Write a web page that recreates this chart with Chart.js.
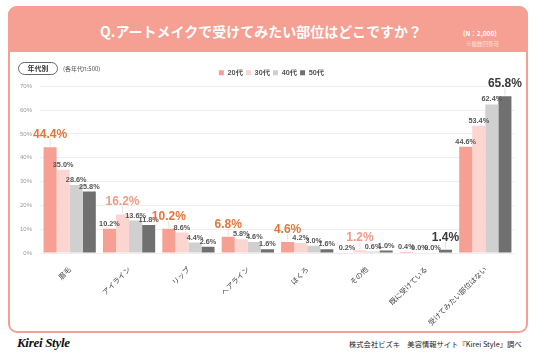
<!DOCTYPE html>
<html><head><meta charset="utf-8">
<script src="https://cdn.jsdelivr.net/npm/chart.js@4"></script>
<style>
html,body{margin:0;padding:0;width:536px;height:357px;background:#fff;overflow:hidden;font-family:"Liberation Sans","Noto Sans CJK JP",sans-serif;}
#panel{position:absolute;left:8px;top:6px;width:516px;height:323px;border:2px solid #F5A092;border-radius:9px;box-sizing:content-box;}
#header{position:absolute;left:8px;top:6px;width:520px;height:46px;background:#F5A092;border-radius:9px 9px 0 0;}
#title{position:absolute;left:0;top:21px;width:522px;text-align:center;color:#fff;font-weight:bold;font-size:14px;font-family:"Noto Sans CJK JP",sans-serif;line-height:20px;}
#n{position:absolute;left:463px;top:28px;color:#fff;font-size:6.5px;font-weight:bold;font-family:"Noto Sans CJK JP",sans-serif;}
#multi{position:absolute;left:466px;top:40px;color:#fde3dd;font-size:5.5px;font-family:"Noto Sans CJK JP",sans-serif;}
#pill{position:absolute;left:18px;top:62px;width:38px;height:11px;border:1px solid #666;border-radius:7px;text-align:center;font-size:7px;line-height:11px;font-weight:bold;color:#333;font-family:"Noto Sans CJK JP",sans-serif;}
#nsub{position:absolute;left:63px;top:64px;font-size:6px;color:#555;font-family:"Noto Sans CJK JP",sans-serif;}
#logo{position:absolute;left:17px;top:335px;font-family:"Liberation Serif",serif;font-style:italic;font-weight:bold;font-size:13px;color:#111;letter-spacing:-0.3px;}
#src{position:absolute;left:349px;top:339px;font-size:7.3px;color:#222;font-family:"Noto Sans CJK JP",sans-serif;}
#wrap{position:absolute;left:10px;top:54px;width:522px;height:276px;}
</style></head>
<body>
<div id="panel"></div>
<div id="header"></div>
<div id="title">Q.アートメイクで受けてみたい部位はどこですか？</div>
<div id="n">(N：2,000)</div>
<div id="multi">※複数回答可</div>
<div id="wrap"><canvas id="c" width="522" height="276"></canvas></div>
<div id="pill">年代別</div>
<div id="nsub">(各年代n:500)</div>
<div id="logo">Kirei Style</div>
<div id="src">株式会社ビズキ　美容情報サイト『Kirei Style』調べ</div>
<script>
const categories = ['眉毛','アイライン','リップ','ヘアライン','ほくろ','その他','既に受けている','受けてみたい部位はない'];
const seriesNames = ['20代','30代','40代','50代'];
const age20 = [44.4, 10.2, 10.2, 6.8, 4.6, 0.2, 0.4, 44.6];
const age30 = [35.0, 16.2, 8.6, 5.8, 4.2, 1.2, 0.0, 53.4];
const age40 = [28.6, 13.6, 4.4, 4.6, 3.0, 0.6, 0.0, 62.4];
const age50 = [25.8, 11.8, 2.6, 1.6, 1.6, 1.0, 1.4, 65.8];
const yTicks = [0,10,20,30,40,50,60,70];

const barColors = ['#F5A092','#FBD5CF','#D0D0D0','#707070'];
const hiColors = ['#E9743A','#F39A88','#999999','#3a3a3a'];
const allSeries = [age20, age30, age40, age50];

const legendShift = {
  id:'legendShift',
  beforeDraw(chart){
    const lg = chart.legend;
    if(!lg) return;
    lg.left += 9; lg.right += 9;
  }
};

const labelPlugin = {
  id:'labels',
  afterDatasetsDraw(chart){
    const ctx = chart.ctx;
    ctx.save();
    ctx.textAlign='center';
    ctx.textBaseline='alphabetic';
    categories.forEach((c,j)=>{
      let maxI=0;
      allSeries.forEach((s,i)=>{ if(s[j]>allSeries[maxI][j]) maxI=i; });
      allSeries.forEach((s,i)=>{
        const el = chart.getDatasetMeta(i).data[j];
        const txt = s[j].toFixed(1)+'%';
        if(i===maxI){
          const off = 9;
          ctx.strokeStyle='#d0d0d0'; ctx.lineWidth=0.6;
          ctx.beginPath(); ctx.moveTo(el.x, el.y-1); ctx.lineTo(el.x, el.y-off+1); ctx.stroke();
          ctx.font='bold 12px "Liberation Sans", Arial, sans-serif';
          ctx.fillStyle=hiColors[i];
          ctx.fillText(txt, el.x, el.y-off);
        } else {
          ctx.font='bold 7.3px "Liberation Sans", Arial, sans-serif';
          ctx.fillStyle='#555';
          ctx.fillText(txt, el.x, el.y-3);
        }
      });
    });
    ctx.restore();
  }
};

new Chart(document.getElementById('c'), {
  type:'bar',
  data:{
    labels: categories,
    datasets: seriesNames.map((n,i)=>({
      label:n, data: allSeries[i], backgroundColor: barColors[i], borderWidth:0,
      barPercentage:1.0, categoryPercentage:0.88
    }))
  },
  options:{
    responsive:false, animation:false,
    layout:{padding:{top:12,right:17,left:0,bottom:0}},
    plugins:{
      legend:{
        position:'top', align:'center',
        labels:{boxWidth:5, boxHeight:5, padding:3, color:'#555',
          font:{size:7.3, weight:'bold', family:'"Liberation Sans","Noto Sans CJK JP",sans-serif'}}
      },
      tooltip:{enabled:false}
    },
    scales:{
      x:{
        grid:{display:false}, border:{display:false},
        ticks:{maxRotation:45, minRotation:45, color:'#444', padding:4,
          font:{size:7.2, family:'"Noto Sans CJK JP",sans-serif'}},
        afterFit(s){ s.height = 77; }
      },
      y:{
        min:0, max:70,
        afterBuildTicks(s){ s.ticks = yTicks.map(v=>({value:v})); },
        grid:{color:'#eeeeee', drawTicks:false, lineWidth:1}, border:{display:false},
        ticks:{color:'#999', padding:8, callback:v=>v+'%',
          font:{size:6, family:'"Liberation Sans",sans-serif'}},
        afterFit(s){ s.width = 30; }
      }
    }
  },
  plugins:[legendShift, labelPlugin]
});
</script>
</body></html>
